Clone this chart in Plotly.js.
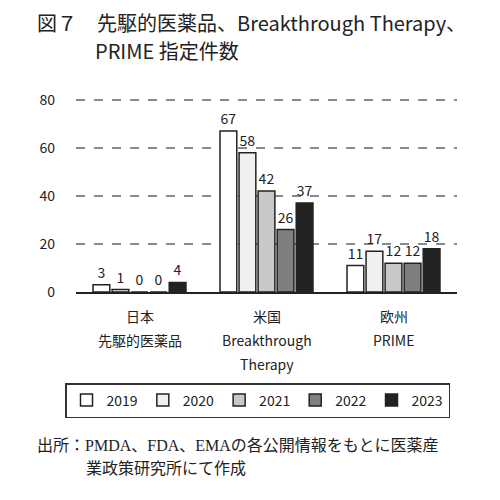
<!DOCTYPE html>
<html>
<head>
<meta charset="utf-8">
<script src="https://cdn.plot.ly/plotly-3.0.1.min.js"></script>
<style>
  body { margin: 0; background: #fff; }
  #chart { width: 500px; height: 500px; }
</style>
</head>
<body>
<div id="chart"></div>
<script>
// categories and their label lines
var categories = ['日本', '米国', '欧州'];
var catLine2 = ['先駆的医薬品', 'Breakthrough', 'PRIME'];
var catLine3 = ['', 'Therapy', ''];

var years = ['2019', '2020', '2021', '2022', '2023'];
var v2019 = [3, 67, 11];
var v2020 = [1, 58, 17];
var v2021 = [0, 42, 12];
var v2022 = [0, 26, 12];
var v2023 = [4, 37, 18];
var yTicks = [0, 20, 40, 60, 80];

var fills = ['#ffffff', '#f0f0f0', '#c8c8c8', '#7f7f7f', '#222222'];
var series = [v2019, v2020, v2021, v2022, v2023];
var font = 'Noto Sans CJK JP, Noto Sans, sans-serif';
var serif = 'Liberation Serif, Noto Sans CJK JP, serif';

// margins are kept thin so the legend gets room for one row;
// the x axis domain puts the bars back at 76..457 px
var ML = 10, MR = 10, T = 95, B = 292;
var L = 76, R = 457;
function px(x) { return (x - ML) / (500 - ML - MR); }
function py(y) { return (B - y) / (B - T); }

var data = [];
for (var i = 0; i < years.length; i++) {
  data.push({
    type: 'bar',
    name: years[i],
    x: categories,
    y: series[i],
    text: series[i].map(String),
    textposition: 'outside',
    cliponaxis: false,
    textfont: {family: font, size: 14, color: '#222'},
    marker: {color: fills[i], line: {color: '#222', width: 1.5}}
  });
}

var ann = [];
// title
ann.push({xref: 'paper', yref: 'paper', x: px(35), y: py(22), xanchor: 'left', yanchor: 'middle',
  text: '図７　先駆的医薬品、Breakthrough Therapy、', showarrow: false,
  font: {family: font, size: 20, color: '#222'}});
ann.push({xref: 'paper', yref: 'paper', x: px(93), y: py(50), xanchor: 'left', yanchor: 'middle',
  text: 'PRIME 指定件数', showarrow: false,
  font: {family: font, size: 20, color: '#222'}});
// category labels
for (var c = 0; c < categories.length; c++) {
  var lines = [categories[c], catLine2[c], catLine3[c]];
  for (var l = 0; l < lines.length; l++) {
    if (!lines[l]) continue;
    ann.push({xref: 'x', yref: 'paper', x: categories[c], y: 0, yshift: -24 - 24 * l,
      xanchor: 'center', yanchor: 'middle', text: lines[l], showarrow: false,
      font: {family: font, size: 14, color: '#222'}});
  }
}
// source note
ann.push({xref: 'paper', yref: 'paper', x: px(35), y: py(445), xanchor: 'left', yanchor: 'middle',
  text: '出所：PMDA、FDA、EMAの各公開情報をもとに医薬産', showarrow: false,
  font: {family: serif, size: 16, color: '#222'}});
ann.push({xref: 'paper', yref: 'paper', x: px(84), y: py(468), xanchor: 'left', yanchor: 'middle',
  text: '業政策研究所にて作成', showarrow: false,
  font: {family: serif, size: 16, color: '#222'}});

var layout = {
  width: 500, height: 500,
  margin: {l: ML, r: MR, t: T, b: 500 - B},
  paper_bgcolor: '#fff', plot_bgcolor: '#fff',
  font: {family: font, size: 14, color: '#222'},
  barmode: 'group', bargap: 0.25, bargroupgap: 0.12,
  showlegend: true,
  legend: {orientation: 'h', x: px(257.5), y: py(383), xanchor: 'center', yanchor: 'top',
    bordercolor: '#333', borderwidth: 1.5, itemwidth: 30,
    font: {family: font, size: 14, color: '#222'}, traceorder: 'normal'},
  xaxis: {type: 'category', domain: [px(L), px(R)], showticklabels: false, ticks: '', showline: true,
    linecolor: '#222', linewidth: 1.5, showgrid: false, fixedrange: true},
  yaxis: {range: [0, 82], tickvals: yTicks, showgrid: true, gridcolor: '#8a8a8a', griddash: 'dash',
    gridwidth: 1.5, zeroline: false, showline: false, ticklabelstandoff: 20,
    tickfont: {family: font, size: 14, color: '#222'}, fixedrange: true},
  annotations: ann
};

Plotly.newPlot('chart', data, layout, {staticPlot: true});
</script>
</body>
</html>
